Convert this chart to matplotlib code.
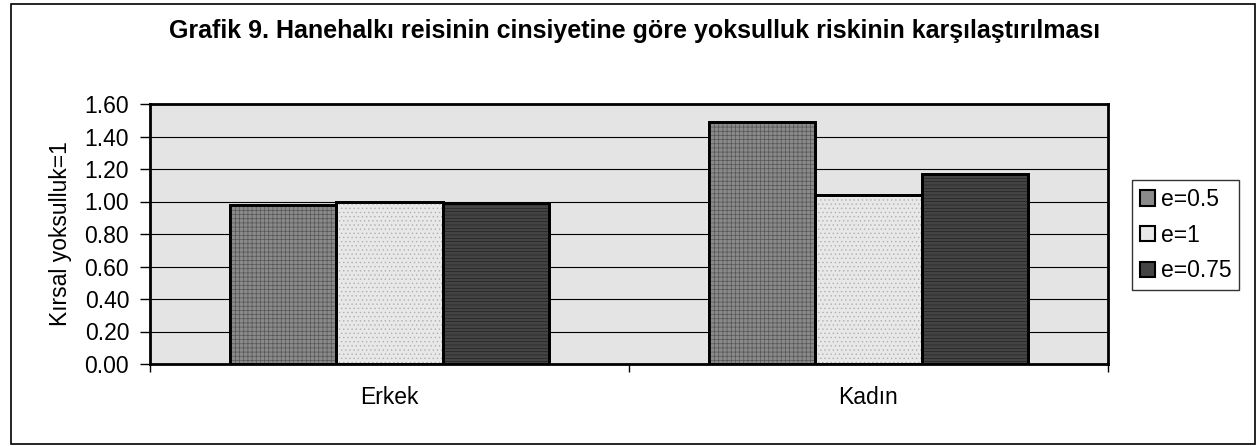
import matplotlib
matplotlib.use("Agg")
import matplotlib.pyplot as plt
import numpy as np
from matplotlib.patches import Rectangle

plt.rcParams['font.family'] = ['Liberation Sans', 'DejaVu Sans']
plt.rcParams['hatch.linewidth'] = 0.5

categories = ["Erkek", "Kadın"]
series_names = ["e=0.5", "e=1", "e=0.75"]
values = {
    "e=0.5": [0.98, 1.49],
    "e=1": [1.00, 1.04],
    "e=0.75": [0.99, 1.17],
}
yticks = [0.0, 0.2, 0.4, 0.6, 0.8, 1.0, 1.2, 1.4, 1.6]
title = "Grafik 9. Hanehalkı reisinin cinsiyetine göre yoksulluk riskinin karşılaştırılması"
ylabel = "Kırsal yoksulluk=1"

colors = {"e=0.5": "#8a8a8a", "e=1": "#e8e8e8", "e=0.75": "#444444"}
hatches = {"e=0.5": "++++", "e=1": "....", "e=0.75": "-----"}
hatch_colors = {"e=0.5": "#555555", "e=1": "#b0b0b0", "e=0.75": "#222222"}

FS = 16.5
W, H = 1258, 446
fig = plt.figure(figsize=(W / 100, H / 100), dpi=100)

# outer border
fig.patches.append(Rectangle((11 / W, 2 / H), (1255 - 11) / W, (444 - 4) / H,
                             transform=fig.transFigure, fill=False,
                             edgecolor="black", linewidth=1.2))

ax = fig.add_axes([150 / W, (H - 364) / H, (1108 - 150) / W, (364 - 104) / H])
ax.set_facecolor("#e4e4e4")

x = np.arange(len(categories))
w = 1 / 4.5
for i, s in enumerate(series_names):
    pos = x + (i - 1) * w
    bars = ax.bar(pos, values[s], width=w, color=colors[s], edgecolor="black",
                  linewidth=2, zorder=3, label=s)
    for b in bars:
        ax.add_patch(Rectangle(b.get_xy(), b.get_width(), b.get_height(),
                               fill=False, hatch=hatches[s],
                               edgecolor=hatch_colors[s], linewidth=0, zorder=3.5))
        ax.add_patch(Rectangle(b.get_xy(), b.get_width(), b.get_height(),
                               fill=False, edgecolor="black", linewidth=2, zorder=4))

ax.set_xlim(-0.5, len(categories) - 0.5)
ax.set_ylim(0, 1.6)
ax.set_yticks(yticks)
ax.set_yticklabels([f"{v:.2f}" for v in yticks], fontsize=FS)
ax.yaxis.grid(True, color="black", linewidth=0.8, zorder=1)
ax.set_axisbelow(True)

ax.set_xticks(x)
ax.set_xticklabels(categories, fontsize=FS)
ax.tick_params(axis="x", which="major", length=0, pad=16)
ax.set_xticks(np.arange(-0.5, len(categories), 1), minor=True)
ax.tick_params(axis="x", which="minor", length=6, width=1, direction="out")
ax.tick_params(axis="y", length=7, width=1, direction="out", pad=8)

for sp in ax.spines.values():
    sp.set_linewidth(2)
    sp.set_color("black")

ax.set_ylabel(ylabel, fontsize=FS)
ax.yaxis.set_label_coords(-(150 - 72) / (1108 - 150), 0.5)

fig.text(635 / W, (H - 31) / H, title, ha="center", va="center",
         fontsize=18, fontweight="bold")

leg = fig.legend(loc="upper left", bbox_to_anchor=(1132 / W, (H - 180) / H),
                 frameon=True, fancybox=False, fontsize=FS,
                 handlelength=0.65, handleheight=0.65, handletextpad=0.25,
                 labelspacing=0.55, borderpad=0.35, borderaxespad=0)
leg.get_frame().set_edgecolor("black")
leg.get_frame().set_linewidth(1)
for h in leg.legend_handles:
    h.set_linewidth(1.5)

fig.savefig("out.png", dpi=100, facecolor="white")
